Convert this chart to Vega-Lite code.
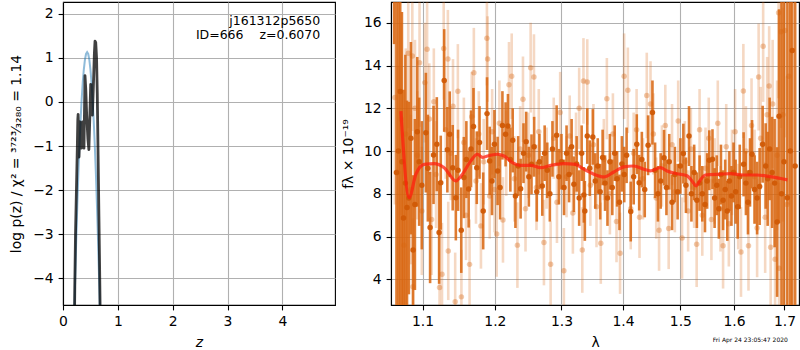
{
  "$schema": "https://vega.github.io/schema/vega-lite/v6.json",
  "padding": {"left": 9, "top": 1, "right": 0, "bottom": 0},
  "bounds": "flush",
  "spacing": 56,
  "background": "white",
  "config": {
    "font": "DejaVu Sans",
    "view": {"stroke": "black", "strokeWidth": 1.1},
    "axis": {
      "domainColor": "black", "domainWidth": 1.1,
      "tickColor": "black", "tickWidth": 1.1, "tickSize": 4.9,
      "labelPadding": 4.9, "labelFont": "DejaVu Sans", "labelFontSize": 13.9, "labelColor": "black",
      "titleFont": "DejaVu Sans", "titleFontSize": 13.9, "titleFontWeight": "normal", "titleColor": "black",
      "grid": true, "gridColor": "#b0b0b0", "gridWidth": 1.1,
      "labelFlush": false, "labelOverlap": false
    }
  },
  "datasets": {
    "blue": [
      {"z": 0.20, "lp": -5.09}, {"z": 0.21, "lp": -4.58}, {"z": 0.22, "lp": -4.10}, {"z": 0.24, "lp": -3.19},
      {"z": 0.26, "lp": -2.37}, {"z": 0.28, "lp": -1.63}, {"z": 0.30, "lp": -0.99}, {"z": 0.32, "lp": -0.43},
      {"z": 0.34, "lp": 0.05}, {"z": 0.36, "lp": 0.44}, {"z": 0.38, "lp": 0.74}, {"z": 0.40, "lp": 0.96},
      {"z": 0.42, "lp": 1.09}, {"z": 0.44, "lp": 1.13}, {"z": 0.46, "lp": 1.09}, {"z": 0.48, "lp": 0.96},
      {"z": 0.50, "lp": 0.74}, {"z": 0.52, "lp": 0.44}, {"z": 0.54, "lp": 0.05}, {"z": 0.56, "lp": -0.43},
      {"z": 0.58, "lp": -0.99}, {"z": 0.60, "lp": -1.63}, {"z": 0.62, "lp": -2.37}, {"z": 0.64, "lp": -3.19},
      {"z": 0.66, "lp": -4.10}, {"z": 0.68, "lp": -5.09}
    ],
    "black": [
      {"z": 0.205, "lp": -5.5}, {"z": 0.215, "lp": -4.2}, {"z": 0.228, "lp": -3.0}, {"z": 0.245, "lp": -2.0},
      {"z": 0.26, "lp": -1.1}, {"z": 0.27, "lp": -0.4}, {"z": 0.276, "lp": -0.28}, {"z": 0.283, "lp": -0.7},
      {"z": 0.292, "lp": -1.25}, {"z": 0.30, "lp": -0.9}, {"z": 0.31, "lp": -0.45}, {"z": 0.322, "lp": -0.8},
      {"z": 0.335, "lp": -1.05}, {"z": 0.347, "lp": -0.7}, {"z": 0.358, "lp": -0.45}, {"z": 0.37, "lp": -0.8},
      {"z": 0.382, "lp": -1.05}, {"z": 0.392, "lp": -0.2}, {"z": 0.401, "lp": 0.6}, {"z": 0.415, "lp": 0.3},
      {"z": 0.432, "lp": -0.3}, {"z": 0.455, "lp": -0.85}, {"z": 0.472, "lp": -1.08}, {"z": 0.488, "lp": -0.4},
      {"z": 0.505, "lp": 0.4}, {"z": 0.52, "lp": 0.15}, {"z": 0.536, "lp": -0.3}, {"z": 0.555, "lp": 0.4},
      {"z": 0.572, "lp": 1.1}, {"z": 0.584, "lp": 1.38}, {"z": 0.597, "lp": 1.35}, {"z": 0.612, "lp": 1.0},
      {"z": 0.625, "lp": 0.2}, {"z": 0.64, "lp": -1.2}, {"z": 0.655, "lp": -2.6}, {"z": 0.668, "lp": -3.8},
      {"z": 0.68, "lp": -5.0}, {"z": 0.69, "lp": -5.8}
    ],
    "model": [
      {"l": 1.0717, "f": 11.87}, {"l": 1.0824, "f": 7.82}, {"l": 1.0912, "f": 8.92}, {"l": 1.1021, "f": 9.38},
      {"l": 1.1154, "f": 9.41}, {"l": 1.1289, "f": 9.22}, {"l": 1.1449, "f": 8.6}, {"l": 1.1541, "f": 8.92},
      {"l": 1.1657, "f": 9.54}, {"l": 1.1751, "f": 9.85}, {"l": 1.1822, "f": 9.7}, {"l": 1.1893, "f": 9.77},
      {"l": 1.2036, "f": 9.85}, {"l": 1.2132, "f": 9.77}, {"l": 1.2255, "f": 9.46}, {"l": 1.2377, "f": 9.33},
      {"l": 1.2527, "f": 9.33}, {"l": 1.2679, "f": 9.22}, {"l": 1.2832, "f": 9.33}, {"l": 1.3038, "f": 9.41},
      {"l": 1.3223, "f": 9.38}, {"l": 1.3355, "f": 9.15}, {"l": 1.3517, "f": 8.92}, {"l": 1.368, "f": 8.79},
      {"l": 1.3845, "f": 9.02}, {"l": 1.4012, "f": 9.26}, {"l": 1.4181, "f": 9.3}, {"l": 1.4352, "f": 9.15},
      {"l": 1.4468, "f": 9.07}, {"l": 1.4642, "f": 9.22}, {"l": 1.4761, "f": 9.07}, {"l": 1.4939, "f": 8.94},
      {"l": 1.512, "f": 8.84}, {"l": 1.5211, "f": 8.6}, {"l": 1.529, "f": 8.37}, {"l": 1.5351, "f": 8.6},
      {"l": 1.5456, "f": 8.88}, {"l": 1.5737, "f": 8.92}, {"l": 1.5927, "f": 8.94}, {"l": 1.6183, "f": 8.88},
      {"l": 1.6446, "f": 8.88}, {"l": 1.671, "f": 8.8}, {"l": 1.7061, "f": 8.65}
    ],
    "dark": [
      {"l": 1.063, "f": 18, "e": 3}, {"l": 1.066, "f": 9, "e": 9}, {"l": 1.0685, "f": 10, "e": 8}, {"l": 1.0708, "f": 12.78, "e": 10},
      {"l": 1.073, "f": 9.5, "e": 7}, {"l": 1.075, "f": 6.87, "e": 6}, {"l": 1.0775, "f": 8.5, "e": 6}, {"l": 1.0796, "f": 7.36, "e": 5},
      {"l": 1.082, "f": 7.8, "e": 4.5}, {"l": 1.0847, "f": 10.6, "e": 4.5}, {"l": 1.0875, "f": 5.37, "e": 3.5}, {"l": 1.0899, "f": 7.5, "e": 4},
      {"l": 1.093, "f": 10.9, "e": 3.5}, {"l": 1.0955, "f": 9.5, "e": 3}, {"l": 1.099, "f": 8.4, "e": 3}, {"l": 1.1044, "f": 10.86, "e": 2.8},
      {"l": 1.107, "f": 9.2, "e": 2.5}, {"l": 1.11, "f": 6.42, "e": 2.6}, {"l": 1.1146, "f": 9.82, "e": 2.3}, {"l": 1.119, "f": 10.32, "e": 2.2},
      {"l": 1.1221, "f": 6.19, "e": 2.4}, {"l": 1.1243, "f": 8.52, "e": 2.2}, {"l": 1.129, "f": 13.3, "e": 2.4}, {"l": 1.1333, "f": 10.06, "e": 2},
      {"l": 1.1365, "f": 10.79, "e": 2}, {"l": 1.1406, "f": 9.22, "e": 2}, {"l": 1.1449, "f": 7.82, "e": 2}, {"l": 1.148, "f": 9.1, "e": 1.9},
      {"l": 1.1524, "f": 6.3, "e": 2}, {"l": 1.156, "f": 8.76, "e": 1.9}, {"l": 1.1595, "f": 9.6, "e": 1.8}, {"l": 1.1627, "f": 8.22, "e": 1.8},
      {"l": 1.166, "f": 10.1, "e": 1.8}, {"l": 1.1695, "f": 11.15, "e": 1.8}, {"l": 1.1741, "f": 9.22, "e": 1.7}, {"l": 1.178, "f": 10.4, "e": 1.7},
      {"l": 1.1832, "f": 7.2, "e": 1.8}, {"l": 1.1887, "f": 11.75, "e": 1.7}, {"l": 1.1925, "f": 9.54, "e": 1.6}, {"l": 1.1958, "f": 8.6, "e": 1.6},
      {"l": 1.1993, "f": 10.32, "e": 1.6}, {"l": 1.2039, "f": 9.07, "e": 1.6}, {"l": 1.2075, "f": 8.3, "e": 1.5}, {"l": 1.2109, "f": 11.2, "e": 1.6},
      {"l": 1.2155, "f": 10.78, "e": 1.5}, {"l": 1.219, "f": 11.17, "e": 1.5}, {"l": 1.2225, "f": 9.6, "e": 1.5}, {"l": 1.226, "f": 10.5, "e": 1.5},
      {"l": 1.23, "f": 7.9, "e": 1.5}, {"l": 1.234, "f": 9.3, "e": 1.4}, {"l": 1.2377, "f": 8.24, "e": 1.4}, {"l": 1.242, "f": 9.9, "e": 1.4},
      {"l": 1.246, "f": 10.44, "e": 1.4}, {"l": 1.25, "f": 8.8, "e": 1.4}, {"l": 1.254, "f": 9.38, "e": 1.4}, {"l": 1.258, "f": 10.2, "e": 1.4},
      {"l": 1.262, "f": 8.1, "e": 1.4}, {"l": 1.266, "f": 9.5, "e": 1.3}, {"l": 1.2704, "f": 8.37, "e": 1.4}, {"l": 1.274, "f": 9.9, "e": 1.3},
      {"l": 1.278, "f": 9.1, "e": 1.3}, {"l": 1.282, "f": 8.0, "e": 1.3}, {"l": 1.286, "f": 10.1, "e": 1.3}, {"l": 1.2925, "f": 10.74, "e": 1.4},
      {"l": 1.296, "f": 8.8, "e": 1.3}, {"l": 1.3, "f": 9.5, "e": 1.3}, {"l": 1.304, "f": 8.3, "e": 1.3}, {"l": 1.308, "f": 9.9, "e": 1.3},
      {"l": 1.312, "f": 8.9, "e": 1.3}, {"l": 1.316, "f": 10.2, "e": 1.3}, {"l": 1.3196, "f": 8.45, "e": 1.3}, {"l": 1.324, "f": 9.4, "e": 1.3},
      {"l": 1.328, "f": 7.8, "e": 1.3}, {"l": 1.332, "f": 9.9, "e": 1.3}, {"l": 1.3355, "f": 7.95, "e": 1.3}, {"l": 1.3371, "f": 7.2, "e": 1.4},
      {"l": 1.341, "f": 10.7, "e": 1.3}, {"l": 1.345, "f": 9.2, "e": 1.3}, {"l": 1.35, "f": 10.66, "e": 1.3}, {"l": 1.354, "f": 8.6, "e": 1.3},
      {"l": 1.358, "f": 9.3, "e": 1.3}, {"l": 1.362, "f": 8.1, "e": 1.3}, {"l": 1.366, "f": 9.7, "e": 1.3}, {"l": 1.37, "f": 8.5, "e": 1.3},
      {"l": 1.374, "f": 7.8, "e": 1.3}, {"l": 1.378, "f": 9.5, "e": 1.3}, {"l": 1.382, "f": 8.3, "e": 1.3}, {"l": 1.386, "f": 9.9, "e": 1.3},
      {"l": 1.39, "f": 8.7, "e": 1.3}, {"l": 1.394, "f": 7.6, "e": 1.3}, {"l": 1.398, "f": 9.4, "e": 1.3}, {"l": 1.402, "f": 8.9, "e": 1.3},
      {"l": 1.406, "f": 9.8, "e": 1.3}, {"l": 1.413, "f": 7.17, "e": 1.4}, {"l": 1.418, "f": 8.8, "e": 1.3}, {"l": 1.4233, "f": 10.32, "e": 1.4},
      {"l": 1.4274, "f": 8.52, "e": 1.3}, {"l": 1.432, "f": 9.6, "e": 1.3}, {"l": 1.437, "f": 8.2, "e": 1.3}, {"l": 1.4428, "f": 10.27, "e": 1.4},
      {"l": 1.4504, "f": 11.8, "e": 1.5}, {"l": 1.455, "f": 9.1, "e": 1.3}, {"l": 1.46, "f": 8.0, "e": 1.3}, {"l": 1.4648, "f": 8.6, "e": 1.3},
      {"l": 1.4708, "f": 9.69, "e": 1.3}, {"l": 1.475, "f": 8.3, "e": 1.3}, {"l": 1.48, "f": 9.5, "e": 1.3}, {"l": 1.485, "f": 7.6, "e": 1.3},
      {"l": 1.49, "f": 8.9, "e": 1.3}, {"l": 1.495, "f": 8.1, "e": 1.3}, {"l": 1.5, "f": 9.3, "e": 1.3}, {"l": 1.5053, "f": 9.88, "e": 1.4},
      {"l": 1.51, "f": 8.4, "e": 1.3}, {"l": 1.5156, "f": 10.7, "e": 1.4}, {"l": 1.52, "f": 8.0, "e": 1.3}, {"l": 1.525, "f": 9.0, "e": 1.3},
      {"l": 1.53, "f": 7.7, "e": 1.3}, {"l": 1.535, "f": 8.5, "e": 1.3}, {"l": 1.54, "f": 8.0, "e": 1.3}, {"l": 1.545, "f": 7.5, "e": 1.3},
      {"l": 1.549, "f": 8.6, "e": 1.3}, {"l": 1.553, "f": 9.57, "e": 1.4}, {"l": 1.559, "f": 9.62, "e": 1.4}, {"l": 1.563, "f": 7.8, "e": 1.4},
      {"l": 1.567, "f": 8.4, "e": 1.4}, {"l": 1.571, "f": 7.3, "e": 1.4}, {"l": 1.575, "f": 8.9, "e": 1.4}, {"l": 1.579, "f": 7.7, "e": 1.4},
      {"l": 1.583, "f": 8.2, "e": 1.4}, {"l": 1.587, "f": 7.2, "e": 1.4}, {"l": 1.591, "f": 8.6, "e": 1.4}, {"l": 1.595, "f": 7.9, "e": 1.4},
      {"l": 1.599, "f": 9.0, "e": 1.4}, {"l": 1.603, "f": 8.1, "e": 1.5}, {"l": 1.607, "f": 7.4, "e": 1.5}, {"l": 1.611, "f": 8.8, "e": 1.5},
      {"l": 1.6185, "f": 9.38, "e": 1.5}, {"l": 1.623, "f": 8.5, "e": 1.5}, {"l": 1.627, "f": 7.6, "e": 1.5}, {"l": 1.631, "f": 9.0, "e": 1.6},
      {"l": 1.635, "f": 9.85, "e": 1.6}, {"l": 1.64, "f": 8.2, "e": 1.6}, {"l": 1.645, "f": 7.8, "e": 1.7}, {"l": 1.65, "f": 8.34, "e": 1.8},
      {"l": 1.656, "f": 10.32, "e": 1.8}, {"l": 1.662, "f": 9.3, "e": 2}, {"l": 1.666, "f": 8.7, "e": 2.2}, {"l": 1.67, "f": 10.1, "e": 2.4},
      {"l": 1.675, "f": 9.0, "e": 2.6}, {"l": 1.68, "f": 8.5, "e": 3}, {"l": 1.685, "f": 6.68, "e": 3.5}, {"l": 1.689, "f": 11.63, "e": 5},
      {"l": 1.694, "f": 8.0, "e": 9}, {"l": 1.699, "f": 9.5, "e": 11}, {"l": 1.706, "f": 7.82, "e": 12}, {"l": 1.712, "f": 10, "e": 12},
      {"l": 1.716, "f": 14.7, "e": 12}, {"l": 1.722, "f": 9.3, "e": 12}
    ],
    "light": [
      {"l": 1.064, "f": 12.5, "e": 5}, {"l": 1.068, "f": 9.0, "e": 5}, {"l": 1.072, "f": 11.5, "e": 4.5}, {"l": 1.0756, "f": 5.6, "e": 4},
      {"l": 1.078, "f": 10.8, "e": 4}, {"l": 1.0812, "f": 14.57, "e": 3.5}, {"l": 1.0845, "f": 8.2, "e": 3.5}, {"l": 1.0865, "f": 14.44, "e": 3.5},
      {"l": 1.0873, "f": 3.65, "e": 3.2}, {"l": 1.09, "f": 12.0, "e": 3.2}, {"l": 1.093, "f": 9.8, "e": 3}, {"l": 1.096, "f": 14.13, "e": 3},
      {"l": 1.099, "f": 7.2, "e": 3}, {"l": 1.103, "f": 13.2, "e": 2.8}, {"l": 1.106, "f": 14.76, "e": 2.8}, {"l": 1.109, "f": 11.5, "e": 2.6},
      {"l": 1.112, "f": 6.8, "e": 2.6}, {"l": 1.115, "f": 12.3, "e": 2.5}, {"l": 1.118, "f": 8.9, "e": 2.5}, {"l": 1.1227, "f": 3.62, "e": 2.5},
      {"l": 1.126, "f": 4.24, "e": 2.4}, {"l": 1.1283, "f": 14.8, "e": 2.4}, {"l": 1.131, "f": 11.0, "e": 2.3}, {"l": 1.134, "f": 14.3, "e": 2.3},
      {"l": 1.1345, "f": 5.33, "e": 2.3}, {"l": 1.138, "f": 9.9, "e": 2.2}, {"l": 1.141, "f": 12.1, "e": 2.2}, {"l": 1.144, "f": 2.95, "e": 2.3},
      {"l": 1.1477, "f": 12.8, "e": 2.2}, {"l": 1.1526, "f": 3.18, "e": 2.2}, {"l": 1.156, "f": 10.4, "e": 2.1}, {"l": 1.159, "f": 7.0, "e": 2.1},
      {"l": 1.164, "f": 4.7, "e": 2.1}, {"l": 1.167, "f": 11.6, "e": 2.1}, {"l": 1.17, "f": 13.66, "e": 2.1}, {"l": 1.173, "f": 8.6, "e": 2},
      {"l": 1.177, "f": 10.8, "e": 2}, {"l": 1.18, "f": 6.5, "e": 2}, {"l": 1.184, "f": 9.5, "e": 2}, {"l": 1.1885, "f": 15.27, "e": 2.2},
      {"l": 1.1895, "f": 14.3, "e": 2}, {"l": 1.1925, "f": 7.9, "e": 2}, {"l": 1.196, "f": 10.9, "e": 2}, {"l": 1.1995, "f": 8.2, "e": 2},
      {"l": 1.2026, "f": 6.12, "e": 2}, {"l": 1.2065, "f": 11.3, "e": 2}, {"l": 1.2117, "f": 6.78, "e": 2}, {"l": 1.2165, "f": 9.9, "e": 2},
      {"l": 1.2205, "f": 13.1, "e": 2}, {"l": 1.2245, "f": 13.5, "e": 2}, {"l": 1.2285, "f": 8.7, "e": 2}, {"l": 1.2329, "f": 5.6, "e": 2},
      {"l": 1.237, "f": 10.1, "e": 2}, {"l": 1.2412, "f": 12.42, "e": 2}, {"l": 1.245, "f": 7.3, "e": 2}, {"l": 1.2495, "f": 9.8, "e": 2},
      {"l": 1.2527, "f": 13.9, "e": 2.1}, {"l": 1.2577, "f": 13.46, "e": 2}, {"l": 1.2615, "f": 8.3, "e": 2}, {"l": 1.265, "f": 10.9, "e": 2},
      {"l": 1.2729, "f": 5.72, "e": 2}, {"l": 1.277, "f": 9.2, "e": 1.9}, {"l": 1.2832, "f": 4.71, "e": 2}, {"l": 1.288, "f": 10.6, "e": 1.9},
      {"l": 1.293, "f": 7.6, "e": 1.9}, {"l": 1.298, "f": 11.8, "e": 1.9}, {"l": 1.3038, "f": 4.4, "e": 2}, {"l": 1.308, "f": 8.8, "e": 1.9},
      {"l": 1.313, "f": 10.7, "e": 1.9}, {"l": 1.318, "f": 7.1, "e": 1.9}, {"l": 1.323, "f": 9.9, "e": 1.9}, {"l": 1.328, "f": 12.0, "e": 1.9},
      {"l": 1.333, "f": 5.37, "e": 2}, {"l": 1.3349, "f": 13.28, "e": 2}, {"l": 1.341, "f": 13.23, "e": 2}, {"l": 1.346, "f": 8.4, "e": 1.9},
      {"l": 1.351, "f": 10.3, "e": 1.9}, {"l": 1.356, "f": 7.4, "e": 1.9}, {"l": 1.363, "f": 5.69, "e": 1.9}, {"l": 1.368, "f": 9.6, "e": 1.9},
      {"l": 1.373, "f": 12.45, "e": 1.9}, {"l": 1.378, "f": 8.0, "e": 1.9}, {"l": 1.383, "f": 10.8, "e": 1.9}, {"l": 1.389, "f": 6.7, "e": 1.9},
      {"l": 1.395, "f": 5.22, "e": 1.9}, {"l": 1.4018, "f": 13.5, "e": 2}, {"l": 1.4081, "f": 12.84, "e": 2}, {"l": 1.413, "f": 7.3, "e": 1.9},
      {"l": 1.418, "f": 9.9, "e": 1.9}, {"l": 1.423, "f": 11.0, "e": 1.9}, {"l": 1.428, "f": 6.9, "e": 1.9}, {"l": 1.434, "f": 8.7, "e": 1.9},
      {"l": 1.4405, "f": 12.6, "e": 2}, {"l": 1.447, "f": 12.2, "e": 2}, {"l": 1.452, "f": 10.8, "e": 1.9}, {"l": 1.457, "f": 7.8, "e": 1.9},
      {"l": 1.462, "f": 6.3, "e": 1.9}, {"l": 1.467, "f": 9.3, "e": 1.9}, {"l": 1.473, "f": 11.2, "e": 1.9}, {"l": 1.479, "f": 6.38, "e": 1.9},
      {"l": 1.485, "f": 10.3, "e": 1.9}, {"l": 1.49, "f": 8.1, "e": 1.9}, {"l": 1.496, "f": 11.4, "e": 1.9}, {"l": 1.503, "f": 5.93, "e": 1.9},
      {"l": 1.508, "f": 9.5, "e": 1.9}, {"l": 1.514, "f": 7.2, "e": 1.9}, {"l": 1.519, "f": 10.1, "e": 1.9}, {"l": 1.525, "f": 8.3, "e": 1.9},
      {"l": 1.5296, "f": 5.64, "e": 2}, {"l": 1.535, "f": 11.0, "e": 1.9}, {"l": 1.54, "f": 7.0, "e": 1.9}, {"l": 1.546, "f": 9.2, "e": 1.9},
      {"l": 1.552, "f": 10.6, "e": 1.9}, {"l": 1.557, "f": 6.8, "e": 1.9}, {"l": 1.563, "f": 8.6, "e": 2}, {"l": 1.569, "f": 11.3, "e": 2},
      {"l": 1.574, "f": 7.3, "e": 2}, {"l": 1.579, "f": 5.57, "e": 2}, {"l": 1.585, "f": 10.2, "e": 2}, {"l": 1.59, "f": 6.6, "e": 2},
      {"l": 1.596, "f": 9.0, "e": 2}, {"l": 1.602, "f": 10.9, "e": 2}, {"l": 1.608, "f": 7.4, "e": 2}, {"l": 1.6134, "f": 5.28, "e": 2.1},
      {"l": 1.618, "f": 12.81, "e": 2.2}, {"l": 1.623, "f": 10.0, "e": 2.1}, {"l": 1.628, "f": 5.57, "e": 2.1}, {"l": 1.634, "f": 11.2, "e": 2.2},
      {"l": 1.64, "f": 8.8, "e": 2.2}, {"l": 1.645, "f": 6.4, "e": 2.3}, {"l": 1.648, "f": 13.46, "e": 2.5}, {"l": 1.652, "f": 10.6, "e": 2.4},
      {"l": 1.657, "f": 14.9, "e": 2.6}, {"l": 1.661, "f": 6.9, "e": 2.6}, {"l": 1.665, "f": 11.7, "e": 2.7}, {"l": 1.669, "f": 13.04, "e": 2.8},
      {"l": 1.672, "f": 5.5, "e": 3}, {"l": 1.676, "f": 12.2, "e": 3}, {"l": 1.681, "f": 4.94, "e": 3.5}, {"l": 1.685, "f": 9.8, "e": 3.5},
      {"l": 1.688, "f": 16.47, "e": 4}, {"l": 1.689, "f": 4.52, "e": 4}, {"l": 1.693, "f": 15.58, "e": 4.5}, {"l": 1.697, "f": 11.7, "e": 5},
      {"l": 1.701, "f": 15.64, "e": 5}, {"l": 1.705, "f": 7.5, "e": 6}, {"l": 1.709, "f": 13.5, "e": 6}
    ]
  },
  "hconcat": [
    {
      "width": 272,
      "height": 303,
      "layer": [
        {
          "data": {"name": "blue"},
          "mark": {"type": "line", "color": "#1f77b4", "opacity": 0.5, "strokeWidth": 2, "clip": true},
          "encoding": {
            "x": {"field": "z", "type": "quantitative",
              "scale": {"domain": [0, 4.96], "nice": false},
              "axis": {"values": [0, 1, 2, 3, 4], "title": "z", "titleFontStyle": "italic", "titleX": 136, "titleY": 41, "titleBaseline": "alphabetic"}},
            "y": {"field": "lp", "type": "quantitative",
              "scale": {"domain": [-4.61, 2.27], "nice": false, "zero": false},
              "axis": {"values": [-4, -3, -2, -1, 0, 1, 2], "title": "log p(z) / χ² = ³⁷²³⁄₃₂₈₀ = 1.14", "titleX": -42.3, "titleY": 151.5, "titleAngle": -90, "titleBaseline": "alphabetic", "titleAlign": "center"}}
          }
        },
        {
          "data": {"name": "black"},
          "mark": {"type": "line", "color": "#000000", "opacity": 0.75, "strokeWidth": 2.8, "strokeJoin": "round", "clip": true},
          "encoding": {
            "x": {"field": "z", "type": "quantitative"},
            "y": {"field": "lp", "type": "quantitative"}
          }
        },
        {
          "data": {"values": [{}]},
          "mark": {"type": "text", "text": "j161312p5650", "align": "right", "baseline": "alphabetic", "fontSize": 12.5, "color": "black"},
          "encoding": {"x": {"datum": 4.69}, "y": {"datum": 1.74}}
        },
        {
          "data": {"values": [{}]},
          "mark": {"type": "text", "text": "ID=666\u00a0\u00a0\u00a0\u00a0z=0.6070", "align": "right", "baseline": "alphabetic", "fontSize": 12.5, "color": "black"},
          "encoding": {"x": {"datum": 4.69}, "y": {"datum": 1.42}}
        }
      ]
    },
    {
      "width": 408,
      "height": 303,
      "layer": [
        {
          "data": {"name": "light"},
          "mark": {"type": "errorbar", "color": "#d8650e", "opacity": 0.25, "thickness": 2.6, "clip": true},
          "encoding": {
            "x": {"field": "l", "type": "quantitative",
              "scale": {"type": "log", "domain": [1.059, 1.73], "nice": false},
              "axis": {"values": [1.1, 1.2, 1.3, 1.4, 1.5, 1.6, 1.7], "format": ".1f", "title": "λ", "titleX": 204, "titleY": 41, "titleBaseline": "alphabetic"}},
            "y": {"field": "f", "type": "quantitative", "title": "fλ × 10⁻¹⁹",
              "scale": {"domain": [2.8, 16.97], "nice": false, "zero": false},
              "axis": {"values": [4, 6, 8, 10, 12, 14, 16], "title": "fλ × 10⁻¹⁹", "titleX": -39, "titleY": 151.5, "titleAngle": -90, "titleBaseline": "alphabetic", "titleAlign": "center"}},
            "yError": {"field": "e"}
          }
        },
        {
          "data": {"name": "light"},
          "mark": {"type": "point", "filled": true, "shape": "circle", "size": 30, "color": "#d8650e", "opacity": 0.35, "clip": true},
          "encoding": {
            "x": {"field": "l", "type": "quantitative", "title": "λ"},
            "y": {"field": "f", "type": "quantitative", "title": "fλ × 10⁻¹⁹"}
          }
        },
        {
          "data": {"name": "dark"},
          "mark": {"type": "errorbar", "color": "#d8650e", "opacity": 0.85, "thickness": 2.6, "clip": true},
          "encoding": {
            "x": {"field": "l", "type": "quantitative", "title": "λ"},
            "y": {"field": "f", "type": "quantitative", "title": "fλ × 10⁻¹⁹"},
            "yError": {"field": "e"}
          }
        },
        {
          "data": {"name": "dark"},
          "mark": {"type": "point", "filled": true, "shape": "circle", "size": 30, "color": "#d05a06", "opacity": 0.95, "clip": true},
          "encoding": {
            "x": {"field": "l", "type": "quantitative", "title": "λ"},
            "y": {"field": "f", "type": "quantitative", "title": "fλ × 10⁻¹⁹"}
          }
        },
        {
          "data": {"name": "model"},
          "mark": {"type": "line", "color": "#ff1f0f", "opacity": 0.75, "strokeWidth": 3.2, "interpolate": "monotone", "clip": true},
          "encoding": {
            "x": {"field": "l", "type": "quantitative", "title": "λ"},
            "y": {"field": "f", "type": "quantitative", "title": "fλ × 10⁻¹⁹"}
          }
        },
        {
          "data": {"values": [{}]},
          "mark": {"type": "text", "text": "Fri Apr 24 23:05:47 2020", "align": "right", "baseline": "middle", "fontSize": 6, "color": "black"},
          "encoding": {"x": {"datum": 1.707}, "y": {"datum": 1.14}}
        }
      ]
    }
  ]
}
